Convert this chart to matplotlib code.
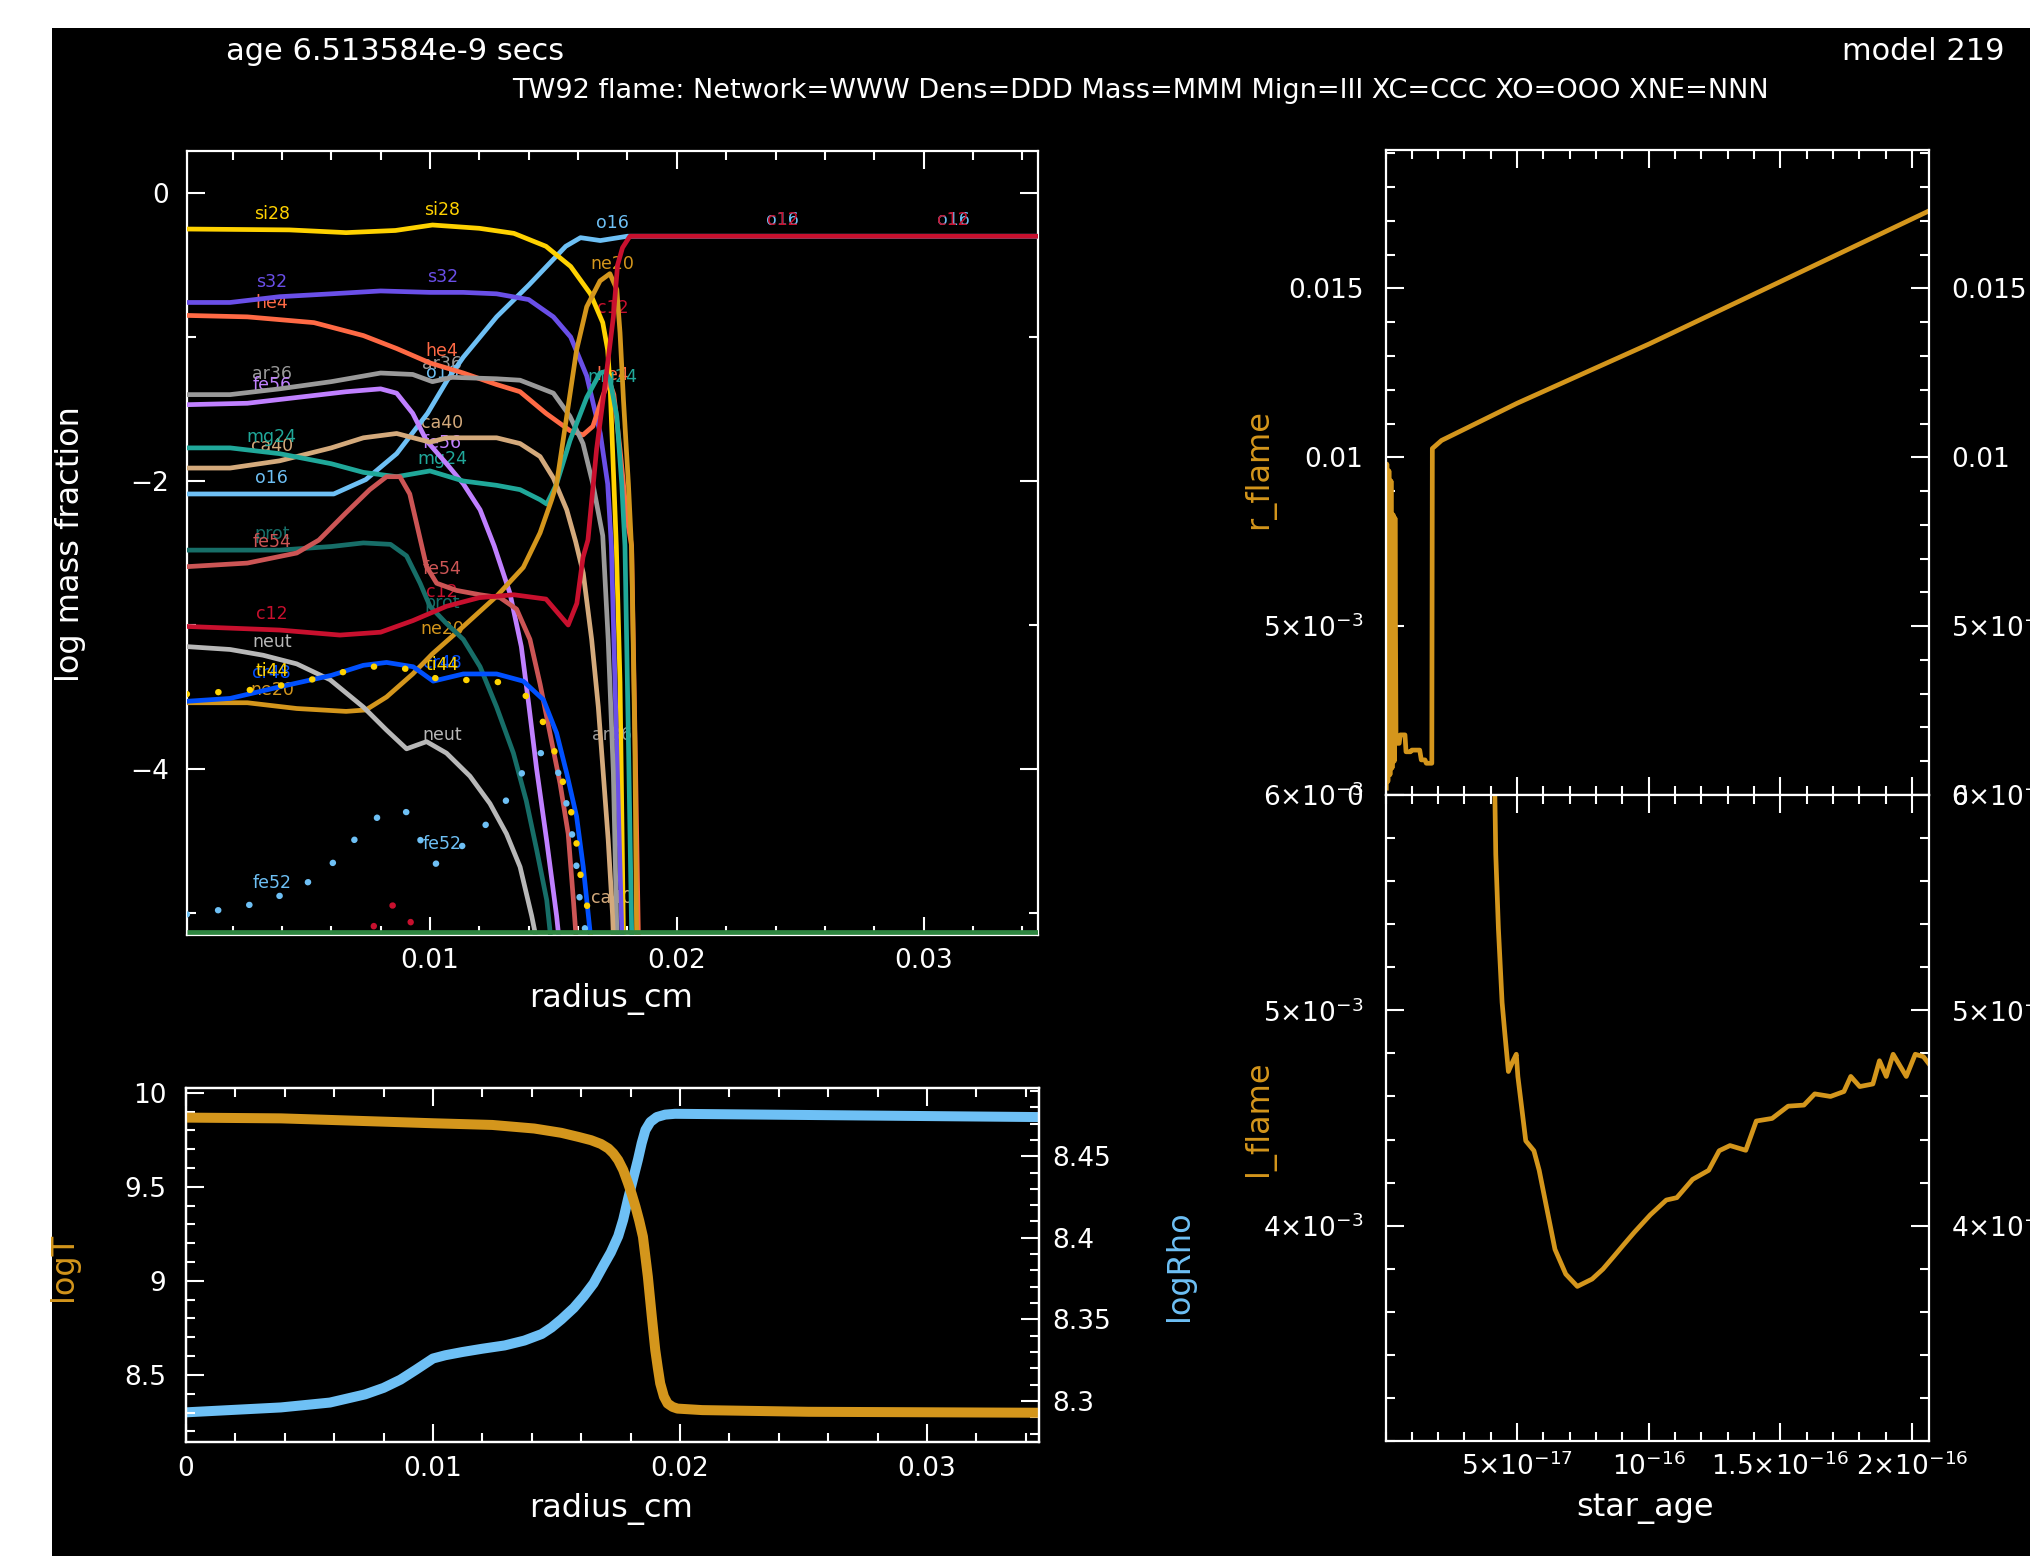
import numpy as np
import matplotlib
matplotlib.use("Agg")
import matplotlib.pyplot as plt
from matplotlib.ticker import FixedLocator, FixedFormatter, MultipleLocator
from matplotlib.patches import Rectangle

# ---------------- header text ----------------
age_text = "age 6.513584e-9 secs"
model_text = "model 219"
title_text = "TW92 flame: Network=WWW Dens=DDD Mass=MMM Mign=III XC=CCC XO=OOO XNE=NNN"

# ---------------- top-left: log mass fraction vs radius (radius in 1e-3 cm) ----------------
si28_r = [0.14, 4.3, 6.6, 8.6, 10.1, 12.0, 13.4, 14.7, 15.7, 16.5, 17.0, 17.2, 17.3, 17.55, 17.7, 17.85]
si28_v = [-0.25, -0.256, -0.275, -0.26, -0.222, -0.245, -0.28, -0.37, -0.51, -0.70, -0.90, -1.09, -1.35, -2.45, -3.4, -5.3]

o16_r = [0.14, 6.1, 7.4, 8.65, 9.9, 10.7, 11.35, 12.7, 14.0, 15.0, 15.5, 16.1, 16.9, 18.0, 34.7]
o16_v = [-2.09, -2.09, -1.99, -1.81, -1.53, -1.30, -1.14, -0.86, -0.64, -0.46, -0.37, -0.31, -0.33, -0.30, -0.30]

c12_r = [0.14, 3.9, 6.35, 8.0, 9.3, 10.67, 12.0, 13.4, 14.7, 15.6, 15.95, 16.2, 16.4, 16.75, 17.1, 17.43, 17.6, 17.8, 18.1, 34.7]
c12_v = [-3.01, -3.035, -3.07, -3.05, -2.97, -2.87, -2.81, -2.79, -2.82, -3.0, -2.85, -2.53, -2.41, -1.78, -1.32, -0.86, -0.5, -0.38, -0.30, -0.30]

s32_r = [0.14, 1.9, 3.9, 6.0, 8.0, 10.0, 11.35, 12.7, 14.0, 15.0, 15.7, 16.35, 16.9, 17.2, 17.35, 17.45, 17.63, 17.77, 17.85]
s32_v = [-0.76, -0.76, -0.72, -0.70, -0.68, -0.69, -0.69, -0.70, -0.74, -0.86, -1.0, -1.27, -1.67, -2.02, -2.45, -3.1, -4.26, -5.12, -5.3]

he4_r = [0.14, 2.6, 5.3, 7.3, 8.65, 10.0, 11.35, 12.7, 13.65, 14.7, 15.67, 16.2, 16.6, 17.0, 17.25, 17.45, 17.7, 17.97, 18.17, 18.31, 18.44, 18.5]
he4_v = [-0.85, -0.86, -0.90, -0.99, -1.08, -1.18, -1.25, -1.33, -1.38, -1.53, -1.65, -1.68, -1.62, -1.41, -1.30, -1.40, -1.78, -2.25, -2.45, -3.8, -5.12, -5.3]

ar36_r = [0.14, 1.9, 3.9, 6.0, 8.0, 9.3, 10.1, 10.9, 12.7, 13.65, 15.0, 15.67, 16.2, 16.6, 17.0, 17.22, 17.43, 17.57, 17.65]
ar36_v = [-1.40, -1.40, -1.36, -1.31, -1.25, -1.26, -1.31, -1.28, -1.29, -1.30, -1.39, -1.55, -1.74, -2.02, -2.38, -3.1, -4.03, -5.12, -5.3]

fe56_r = [0.14, 2.6, 4.6, 6.6, 8.0, 8.65, 9.3, 9.86, 10.67, 11.35, 12.03, 12.6, 13.24, 13.7, 14.0, 14.32, 14.73, 15.13, 15.3]
fe56_v = [-1.47, -1.46, -1.42, -1.38, -1.36, -1.39, -1.53, -1.72, -1.88, -2.02, -2.2, -2.45, -2.78, -3.15, -3.55, -4.0, -4.5, -5.02, -5.3]

mg24_r = [0.14, 1.9, 3.9, 6.0, 7.3, 8.65, 10.0, 11.35, 12.7, 13.65, 14.46, 14.73, 15.13, 15.67, 16.35, 16.89, 17.1, 17.3, 17.57, 17.77, 17.9, 18.04, 18.17, 18.22]
mg24_v = [-1.77, -1.77, -1.81, -1.88, -1.94, -1.97, -1.93, -2.0, -2.03, -2.06, -2.13, -2.16, -2.02, -1.72, -1.42, -1.25, -1.24, -1.30, -1.55, -2.02, -2.45, -3.8, -5.12, -5.3]

ca40_r = [0.14, 1.9, 3.9, 6.0, 7.3, 8.65, 10.0, 10.67, 12.7, 13.65, 14.46, 15.0, 15.54, 15.9, 16.21, 16.55, 16.82, 17.02, 17.22, 17.4, 17.46]
ca40_v = [-1.91, -1.91, -1.86, -1.77, -1.70, -1.67, -1.73, -1.70, -1.70, -1.74, -1.83, -1.98, -2.2, -2.42, -2.64, -3.1, -3.57, -4.03, -4.49, -5.02, -5.3]

ne20_r = [0.14, 2.6, 4.6, 6.6, 7.4, 8.24, 9.3, 10.1, 11.35, 12.7, 13.78, 14.46, 14.93, 15.13, 15.54, 15.94, 16.35, 16.89, 17.29, 17.57, 17.7, 17.84, 18.04, 18.17, 18.3, 18.37, 18.42]
ne20_v = [-3.54, -3.54, -3.58, -3.60, -3.59, -3.50, -3.34, -3.20, -3.01, -2.80, -2.60, -2.36, -2.13, -2.02, -1.55, -1.09, -0.79, -0.61, -0.56, -0.67, -0.97, -1.44, -2.02, -2.48, -3.8, -5.12, -5.3]

prot_r = [0.14, 3.9, 6.0, 7.3, 8.4, 9.05, 9.6, 10.0, 10.67, 11.35, 12.03, 12.7, 13.38, 13.9, 14.32, 14.73, 14.86, 14.95]
prot_v = [-2.48, -2.48, -2.455, -2.43, -2.44, -2.52, -2.71, -2.87, -2.99, -3.10, -3.29, -3.57, -3.89, -4.22, -4.56, -4.91, -5.12, -5.3]

fe54_r = [0.14, 2.6, 4.6, 5.5, 6.6, 7.56, 8.24, 8.78, 9.18, 9.45, 9.86, 10.27, 11.08, 12.03, 12.84, 13.51, 14.05, 14.46, 14.86, 15.27, 15.6, 15.81, 15.9, 15.95]
fe54_v = [-2.595, -2.57, -2.50, -2.41, -2.22, -2.06, -1.97, -1.97, -2.09, -2.29, -2.595, -2.71, -2.76, -2.79, -2.81, -2.89, -3.10, -3.41, -3.75, -4.10, -4.45, -4.91, -5.12, -5.3]

neut_r = [0.14, 1.9, 3.24, 4.6, 5.95, 7.3, 8.24, 9.05, 9.86, 10.67, 11.62, 12.43, 13.1, 13.65, 14.12, 14.25, 14.35]
neut_v = [-3.15, -3.17, -3.21, -3.27, -3.38, -3.57, -3.73, -3.86, -3.81, -3.89, -4.05, -4.24, -4.45, -4.68, -5.02, -5.13, -5.3]

cr48_r = [0.14, 1.9, 3.9, 6.0, 7.3, 8.24, 9.32, 10.13, 11.35, 12.7, 13.78, 14.6, 15.13, 15.54, 15.94, 16.21, 16.48, 16.55]
cr48_v = [-3.53, -3.51, -3.43, -3.35, -3.28, -3.26, -3.29, -3.39, -3.34, -3.34, -3.39, -3.52, -3.75, -4.03, -4.33, -4.68, -5.12, -5.3]

ti44_r = [0.14, 0.99, 2.2, 3.35, 4.56, 5.78, 7.06, 8.31, 9.46, 10.54, 11.75, 12.97, 14.05, 14.66, 15.07, 15.4, 15.74, 15.94, 16.08, 16.35, 16.48, 16.6]
ti44_v = [-3.48, -3.47, -3.46, -3.44, -3.40, -3.36, -3.30, -3.28, -3.32, -3.39, -3.38, -3.40, -3.51, -3.70, -3.89, -4.10, -4.31, -4.52, -4.72, -4.93, -5.11, -5.3]

fe52_r = [0.14, 1.9, 3.1, 4.26, 5.34, 6.28, 7.1, 7.97, 8.6, 9.05, 9.6, 10.13, 11.2, 12.09, 12.97, 13.58, 14.12, 14.93, 15.34, 15.61, 15.81, 15.97, 16.08, 16.28, 16.4]
fe52_v = [-5.01, -4.97, -4.93, -4.86, -4.76, -4.62, -4.46, -4.32, -4.28, -4.30, -4.49, -4.67, -4.55, -4.42, -4.25, -4.08, -3.89, -3.89, -4.10, -4.30, -4.51, -4.72, -4.93, -5.11, -5.3]

ni56_r = [7.3, 7.97, 8.92, 9.32, 9.6]
ni56_v = [-5.3, -4.97, -4.93, -5.11, -5.3]

h1_r = [0.14, 34.7]
h1_v = [-5.135, -5.135]

# ---------------- bottom-left: logT and logRho vs radius (radius in 1e-3 cm) ----------------
logT_r = [0.0, 3.84, 6.69, 10.0, 12.4, 14.1, 15.2, 15.9, 16.4, 16.8, 17.1, 17.3, 17.5, 17.7, 17.9, 18.05, 18.2, 18.35, 18.5, 18.7, 18.86, 19.0, 19.1, 19.2, 19.35, 19.5, 19.7, 19.9, 20.9, 25.2, 34.5]
logT_v = [9.868, 9.864, 9.852, 9.838, 9.829, 9.81, 9.787, 9.765, 9.748, 9.728, 9.704, 9.678, 9.642, 9.59, 9.518, 9.46, 9.394, 9.32, 9.235, 9.022, 8.809, 8.632, 8.54, 8.455, 8.385, 8.348, 8.33, 8.321, 8.313, 8.304, 8.299]

logRho_r = [0.0, 3.84, 5.83, 7.25, 8.0, 8.68, 9.3, 10.0, 10.5, 11.2, 12.0, 12.9, 13.7, 14.4, 14.8, 15.2, 15.7, 16.1, 16.5, 16.9, 17.2, 17.5, 17.7, 17.9, 18.1, 18.3, 18.45, 18.6, 18.8, 19.06, 19.4, 19.8, 34.5]
logRho_v = [8.293, 8.296, 8.299, 8.304, 8.308, 8.313, 8.319, 8.326, 8.328, 8.330, 8.332, 8.334, 8.337, 8.341, 8.345, 8.350, 8.357, 8.364, 8.372, 8.383, 8.391, 8.401, 8.411, 8.424, 8.436, 8.448, 8.458, 8.466, 8.471, 8.474, 8.4755, 8.476, 8.474]

# ---------------- right: r_flame and l_flame vs star_age (age in 1e-17) ----------------
rflame_t = [0.03, 0.05, 0.09, 0.13, 0.17, 0.21, 0.25, 0.29, 0.33, 0.36, 0.40, 0.52, 0.56, 0.74, 0.78, 0.95, 1.0, 1.3, 1.36, 1.5, 1.55, 1.76, 1.78, 2.13, 5.0, 10.0, 15.0, 20.66]
rflame_v = [0.0002, 0.0098, 0.0004, 0.0096, 0.0006, 0.0093, 0.0008, 0.0083, 0.0010, 0.0082, 0.00153, 0.00153, 0.00178, 0.00178, 0.00128, 0.00128, 0.00133, 0.00133, 0.00104, 0.00104, 0.00094, 0.00094, 0.01026, 0.0105, 0.0116, 0.01335, 0.0152, 0.0173]

lflame_t = [4.08, 4.19, 4.29, 4.43, 4.53, 4.67, 4.83, 4.97, 5.03, 5.33, 5.64, 5.84, 6.14, 6.44, 6.85, 7.29, 7.85, 8.26, 8.66, 9.06, 9.46, 10.06, 10.67, 11.07, 11.67, 12.28, 12.68, 13.09, 13.69, 14.09, 14.69, 15.3, 15.9, 16.31, 16.91, 17.42, 17.68, 18.02, 18.52, 18.77, 19.03, 19.29, 19.79, 20.13, 20.44, 20.66]
lflame_v = [0.0066, 0.005725, 0.005381, 0.005037, 0.004899, 0.004716, 0.004761, 0.004796, 0.004693, 0.004394, 0.004348, 0.004257, 0.004073, 0.00389, 0.003775, 0.003718, 0.003752, 0.003798, 0.003855, 0.003913, 0.00397, 0.00405, 0.004119, 0.00413, 0.004215, 0.004257, 0.004348, 0.004372, 0.00435, 0.004486, 0.004498, 0.004555, 0.00456, 0.004612, 0.0046, 0.004623, 0.004693, 0.004646, 0.004658, 0.004766, 0.004693, 0.004796, 0.004693, 0.004796, 0.004785, 0.00475]

# ---------------- styles ----------------
GOLD = "#d4961c"
LBLUE = "#6ec0f5"
W = 2031.0
H = 1556.0
FS_TICK = 19
FS_LAB = 23
FS_HEAD = 22
FS_TITLE = 19.5
FS_SPEC = 12.5

species = [
    # name, r, v, color, linestyle
    ("o16", o16_r, o16_v, LBLUE, "-"),
    ("si28", si28_r, si28_v, "#ffd200", "-"),
    ("s32", s32_r, s32_v, "#6a4fe8", "-"),
    ("he4", he4_r, he4_v, "#ff6a45", "-"),
    ("ar36", ar36_r, ar36_v, "#9a9a9a", "-"),
    ("fe56", fe56_r, fe56_v, "#c080ff", "-"),
    ("ca40", ca40_r, ca40_v, "#d4aa7c", "-"),
    ("mg24", mg24_r, mg24_v, "#20a89a", "-"),
    ("ne20", ne20_r, ne20_v, GOLD, "-"),
    ("prot", prot_r, prot_v, "#176e68", "-"),
    ("fe54", fe54_r, fe54_v, "#cc5555", "-"),
    ("neut", neut_r, neut_v, "#b8b8b8", "-"),
    ("cr48", cr48_r, cr48_v, "#0050ff", "-"),
    ("ti44", ti44_r, ti44_v, "#ffd200", ":"),
    ("fe52", fe52_r, fe52_v, LBLUE, ":"),
    ("ni56", ni56_r, ni56_v, "#c8102e", ":"),
    ("c12", c12_r, c12_v, "#c8102e", "-"),
    ("h1", h1_r, h1_v, "#2e8540", "-"),
]
labelled = ["o16", "si28", "s32", "he4", "ar36", "fe56", "ca40", "mg24", "ne20",
            "prot", "fe54", "neut", "cr48", "ti44", "fe52", "c12"]
# labels that are buried under the steep front in the reference
hidden_labels = {("si28", 2), ("s32", 2)}


def style_axis(ax):
    ax.set_facecolor("black")
    for s in ax.spines.values():
        s.set_color("white")
        s.set_linewidth(1.6)
    ax.tick_params(which="both", direction="in", colors="white", width=1.5,
                   top=True, right=True, labelsize=FS_TICK)
    ax.tick_params(which="major", length=13)
    ax.tick_params(which="minor", length=6.5)


fig = plt.figure(figsize=(W / 100, H / 100), dpi=100, facecolor="white")
fig.add_artist(Rectangle((52 / W, 0), 1 - 52 / W, 1 - 28 / H, transform=fig.transFigure,
                         facecolor="black", edgecolor="none", zorder=-10))

# header
fig.text(226 / W, 1 - 52 / H, age_text, color="white", fontsize=FS_HEAD, ha="left", va="center")
fig.text(2005 / W, 1 - 52 / H, model_text, color="white", fontsize=FS_HEAD, ha="right", va="center")
fig.text(1140 / W, 1 - 91 / H, title_text, color="white", fontsize=FS_TITLE, ha="center", va="center")

# ---------- top-left panel ----------
ax1 = fig.add_axes([186.7 / W, 1 - 935 / H, (1038.3 - 186.7) / W, (935 - 150.7) / H])
style_axis(ax1)
xmin1, xmax1 = 0.000142, 0.034648
ymin1, ymax1 = -5.153, 0.294
for i, (name, r, v, col, ls) in enumerate(species):
    rr = np.array(r) * 1e-3
    if ls == ":":
        ax1.plot(rr, v, color=col, lw=4.6, dashes=(0.05, 4.9), dash_capstyle="round",
                 zorder=3 + i * 0.01)
    else:
        ax1.plot(rr, v, color=col, lw=3.4, solid_capstyle="butt",
                 solid_joinstyle="round", zorder=3 + i * 0.01)
# species labels at five fixed x positions
spec = {s[0]: s for s in species}
for k in range(5):
    xl = xmin1 + (xmax1 - xmin1) * (k + 0.5) / 5
    for name in labelled:
        if (name, k) in hidden_labels:
            continue
        _, r, v, col, _ls = spec[name]
        yv = np.interp(xl, np.array(r) * 1e-3, v, left=-9, right=-9)
        if yv > ymin1:
            ax1.text(xl, yv + 0.11, name, color=col, fontsize=FS_SPEC, ha="center",
                     va="center", zorder=1)
ax1.set_xlim(xmin1, xmax1)
ax1.set_ylim(ymin1, ymax1)
ax1.xaxis.set_major_locator(FixedLocator([0.01, 0.02, 0.03]))
ax1.xaxis.set_major_formatter(FixedFormatter(["0.01", "0.02", "0.03"]))
ax1.xaxis.set_minor_locator(MultipleLocator(0.002))
ax1.yaxis.set_major_locator(FixedLocator([0, -2, -4]))
ax1.yaxis.set_major_formatter(FixedFormatter(["0", "\u22122", "\u22124"]))
ax1.yaxis.set_minor_locator(MultipleLocator(1))
ax1.tick_params(axis="x", pad=9)
ax1.tick_params(axis="y", pad=13)
fig.text(71 / W, 1 - 544 / H, "log mass fraction", color="white", fontsize=FS_LAB,
         rotation=90, ha="center", va="center")
fig.text(611 / W, 1 - 999 / H, "radius_cm", color="white", fontsize=FS_LAB, ha="center", va="center")

# ---------- bottom-left panel ----------
ax3 = fig.add_axes([186 / W, 1 - 1441.7 / H, (1038.6 - 186) / W, (1441.7 - 1087.7) / H])
ax4 = ax3.twinx()
style_axis(ax4)
style_axis(ax3)
ax3.set_facecolor("none")
ax3.set_zorder(ax4.get_zorder() + 1)
ax4.plot(np.array(logRho_r) * 1e-3, logRho_v, color=LBLUE, lw=7.2,
         solid_capstyle="round", solid_joinstyle="round")
ax3.plot(np.array(logT_r) * 1e-3, logT_v, color=GOLD, lw=7.2,
         solid_capstyle="round", solid_joinstyle="round")
ax3.set_xlim(0, 0.03452)
ax3.set_ylim(8.145, 10.027)
ax4.set_ylim(8.275, 8.492)
ax3.xaxis.set_major_locator(FixedLocator([0, 0.01, 0.02, 0.03]))
ax3.xaxis.set_major_formatter(FixedFormatter(["0", "0.01", "0.02", "0.03"]))
ax3.xaxis.set_minor_locator(MultipleLocator(0.002))
ax3.yaxis.set_major_locator(FixedLocator([8.5, 9.0, 9.5, 10.0]))
ax3.yaxis.set_major_formatter(FixedFormatter(["8.5", "9", "9.5", "10"]))
ax3.yaxis.set_minor_locator(MultipleLocator(0.1))
ax3.tick_params(right=False, which="both")
ax4.tick_params(left=False, top=False, which="both")
ax4.yaxis.set_major_locator(FixedLocator([8.3, 8.35, 8.4, 8.45]))
ax4.yaxis.set_major_formatter(FixedFormatter(["8.3", "8.35", "8.4", "8.45"]))
ax4.yaxis.set_minor_locator(MultipleLocator(0.01))
ax3.tick_params(axis="x", pad=10)
ax3.tick_params(axis="y", pad=14)
ax4.tick_params(axis="y", pad=10)
fig.text(64 / W, 1 - 1267 / H, "logT", color=GOLD, fontsize=FS_LAB, rotation=90, ha="center", va="center")
fig.text(1180 / W, 1 - 1266 / H, "logRho", color=LBLUE, fontsize=FS_LAB, rotation=90, ha="center", va="center")
fig.text(611 / W, 1 - 1509 / H, "radius_cm", color="white", fontsize=FS_LAB, ha="center", va="center")

# ---------- right panels ----------
axr1 = fig.add_axes([1385.5 / W, 1 - 795 / H, (1929.2 - 1385.5) / W, (795 - 150) / H])
axr2 = fig.add_axes([1385.5 / W, 1 - 1441 / H, (1929.2 - 1385.5) / W, (1441 - 795) / H], sharex=axr1)
for a in (axr1, axr2):
    style_axis(a)
    a.tick_params(axis="y", which="both", pad=16, labelright=True)
axr1.plot(np.array(rflame_t) * 1e-17, rflame_v, color=GOLD, lw=3.4, solid_joinstyle="round")
axr2.plot(np.array(lflame_t) * 1e-17, lflame_v, color=GOLD, lw=3.4, solid_joinstyle="round")
axr1.set_xlim(0, 2.066e-16)
axr1.set_ylim(0, 0.0191)
axr2.set_ylim(0.003, 0.006)
axr2.xaxis.set_major_locator(FixedLocator([5e-17, 1e-16, 1.5e-16, 2e-16]))
axr2.xaxis.set_major_formatter(FixedFormatter([r"$5{\times}10^{-17}$", r"$10^{-16}$",
                                               r"$1.5{\times}10^{-16}$", r"$2{\times}10^{-16}$"]))
axr2.xaxis.set_minor_locator(MultipleLocator(1e-17))
axr1.tick_params(labelbottom=False)
axr1.yaxis.set_major_locator(FixedLocator([0, 0.005, 0.01, 0.015]))
axr1.yaxis.set_major_formatter(FixedFormatter(["0", r"$5{\times}10^{-3}$", "0.01", "0.015"]))
axr1.yaxis.set_minor_locator(MultipleLocator(0.001))
axr2.yaxis.set_major_locator(FixedLocator([0.004, 0.005, 0.006]))
axr2.yaxis.set_major_formatter(FixedFormatter([r"$4{\times}10^{-3}$", r"$5{\times}10^{-3}$",
                                               r"$6{\times}10^{-3}$"]))
axr2.yaxis.set_minor_locator(MultipleLocator(0.0002))
axr2.tick_params(axis="x", pad=8)
fig.text(1259 / W, 1 - 469 / H, "r_flame", color=GOLD, fontsize=FS_LAB, rotation=90, ha="center", va="center")
fig.text(1259 / W, 1 - 1118 / H, "l_flame", color=GOLD, fontsize=FS_LAB, rotation=90, ha="center", va="center")
fig.text(1645 / W, 1 - 1509 / H, "star_age", color="white", fontsize=FS_LAB, ha="center", va="center")

fig.savefig("out.png", dpi=100, facecolor="white")
